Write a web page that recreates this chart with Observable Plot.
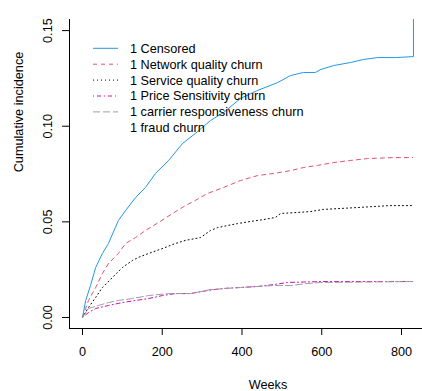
<!DOCTYPE html>
<html><head><meta charset="utf-8">
<script src="https://cdn.jsdelivr.net/npm/d3@7"></script>
<script src="https://cdn.jsdelivr.net/npm/@observablehq/plot@0.6"></script>
<style>body{margin:0;background:#fff} svg{display:block}</style>
</head><body><div id="chart"></div>
<script>
// ---- data ----
const seriesNames = ["1 Censored","1 Network quality churn","1 Service quality churn","1 Price Sensitivity churn","1 carrier responsiveness churn","1 fraud churn"];
const seriesColors = ["#2297E6","#DF536B","#000000","#CD0BBC","#9E9E9E","none"];
const seriesDash = [null,"4,4","1,3","1,3,4,3","7,3","2,2,6,2"];

const censoredWeeks = [0,8,20,33,50,65,90,108,133,158,183,216,251,283,321,354,396,439,489,522,554,584,597,629,672,705,740,785,830,830];
const censoredCI    = [0,0.0089,0.0167,0.0261,0.0335,0.0387,0.0507,0.0559,0.0627,0.0680,0.0753,0.0821,0.0910,0.0962,0.1030,0.1072,0.1145,0.1187,0.1228,0.1265,0.1281,0.1281,0.1296,0.1317,0.1333,0.1349,0.1359,0.1359,0.1364,0.156];

const networkWeeks = [0,15,33,50,65,90,108,133,158,191,226,258,283,313,354,396,439,479,522,554,589,629,672,715,780,828];
const networkCI    = [0,0.0089,0.0157,0.0230,0.0282,0.0335,0.0387,0.0418,0.0455,0.0497,0.0544,0.0585,0.0612,0.0648,0.0680,0.0716,0.0742,0.0753,0.0768,0.0784,0.0795,0.0810,0.0821,0.0831,0.0836,0.0836];

const serviceWeeks = [0,15,33,50,75,100,125,140,166,201,233,258,283,296,321,339,364,389,421,454,484,497,539,572,604,647,690,730,772,828];
const serviceCI    = [0,0.0052,0.0105,0.0157,0.0209,0.0261,0.0298,0.0314,0.0335,0.0361,0.0387,0.0403,0.0413,0.0418,0.0455,0.0470,0.0481,0.0491,0.0502,0.0512,0.0523,0.0544,0.0549,0.0554,0.0565,0.0570,0.0575,0.0580,0.0585,0.0585];

const priceWeeks = [0,15,33,65,100,133,166,201,233,271,313,354,396,439,479,514,597,828];
const priceCI    = [0,0.0026,0.0047,0.0063,0.0078,0.0089,0.0099,0.0115,0.0125,0.0125,0.0141,0.0152,0.0157,0.0162,0.0172,0.0183,0.0188,0.0188];

const carrierWeeks = [0,15,40,65,90,125,166,216,271,321,396,479,522,564,597,828];
const carrierCI    = [0,0.0047,0.0063,0.0078,0.0089,0.0099,0.0115,0.0125,0.0125,0.0146,0.0157,0.0167,0.0167,0.0178,0.0183,0.0188];

const xTicks = [0,200,400,600,800];
const yTicks = [0,0.05,0.10,0.15];
const xDomain = [-32.6, 852.7];
const yDomain = [-0.00575, 0.1558];

// ---- build table ----
const allWeeks = [censoredWeeks, networkWeeks, serviceWeeks, priceWeeks, carrierWeeks];
const allCI = [censoredCI, networkCI, serviceCI, priceCI, carrierCI];
const rows = [];
allWeeks.forEach((ws, s) => ws.forEach((w, i) => rows.push({series: seriesNames[s], week: w, ci: allCI[s][i]})));

const lineMarks = allWeeks.map((_, s) => Plot.line(rows.filter(r => r.series === seriesNames[s]), {
  x: "week", y: "ci", stroke: seriesColors[s], strokeWidth: 1,
  strokeDasharray: seriesDash[s] || undefined, clip: true
}));

const fmt = d3.format(".2f");
const chart = Plot.plot({
  width: 422, height: 391,
  marginLeft: 69, marginRight: 0, marginTop: 19, marginBottom: 63,
  style: {fontFamily: "'Liberation Sans', Arial, sans-serif", fontSize: "12.7px", background: "#fff", color: "#000"},
  x: {domain: xDomain},
  y: {domain: yDomain},
  marks: [
    ...lineMarks,
    Plot.ruleX([xDomain[0]], {stroke: "#000"}),
    Plot.ruleY([yDomain[0]], {stroke: "#000"}),
    Plot.axisX(xTicks, {tickSize: 7, tickPadding: 11, tickFormat: d => String(d), label: null, stroke: "#000", fill: "#000"}),
    Plot.axisY(yTicks, {tickSize: 7, tickFormat: () => "", label: null, stroke: "#000"}),
    Plot.text(yTicks, {x: () => xDomain[0], y: d => d, text: d => fmt(d), rotate: -90, dx: -22, textAnchor: "middle", lineAnchor: "middle", fill: "#000"}),
    Plot.text(["Weeks"], {frameAnchor: "bottom", dx: 22, dy: 56, textAnchor: "middle", lineAnchor: "middle", fill: "#000"}),
    Plot.text(["Cumulative incidence"], {frameAnchor: "left", rotate: -90, dx: -51, dy: -62, textAnchor: "middle", lineAnchor: "middle", fill: "#000"})
  ]
});
document.getElementById("chart").appendChild(chart);

// ---- legend inside plot area ----
const svg = d3.select(chart);
const lg = svg.append("g").attr("font-family", "'Liberation Sans', Arial, sans-serif").attr("font-size", "12.7px").attr("text-anchor", "start");
seriesNames.forEach((name, i) => {
  const yy = 48.3 + i * 15.9;
  if (seriesColors[i] !== "none") {
    lg.append("line").attr("x1", 93).attr("x2", 118).attr("y1", yy).attr("y2", yy)
      .attr("stroke", seriesColors[i]).attr("stroke-width", 1)
      .attr("stroke-dasharray", seriesDash[i] || null);
  }
  lg.append("text").attr("x", 130).attr("y", yy).attr("dy", "0.35em").attr("text-anchor", "start").attr("fill", "#000").text(name);
});
</script>
</body></html>
